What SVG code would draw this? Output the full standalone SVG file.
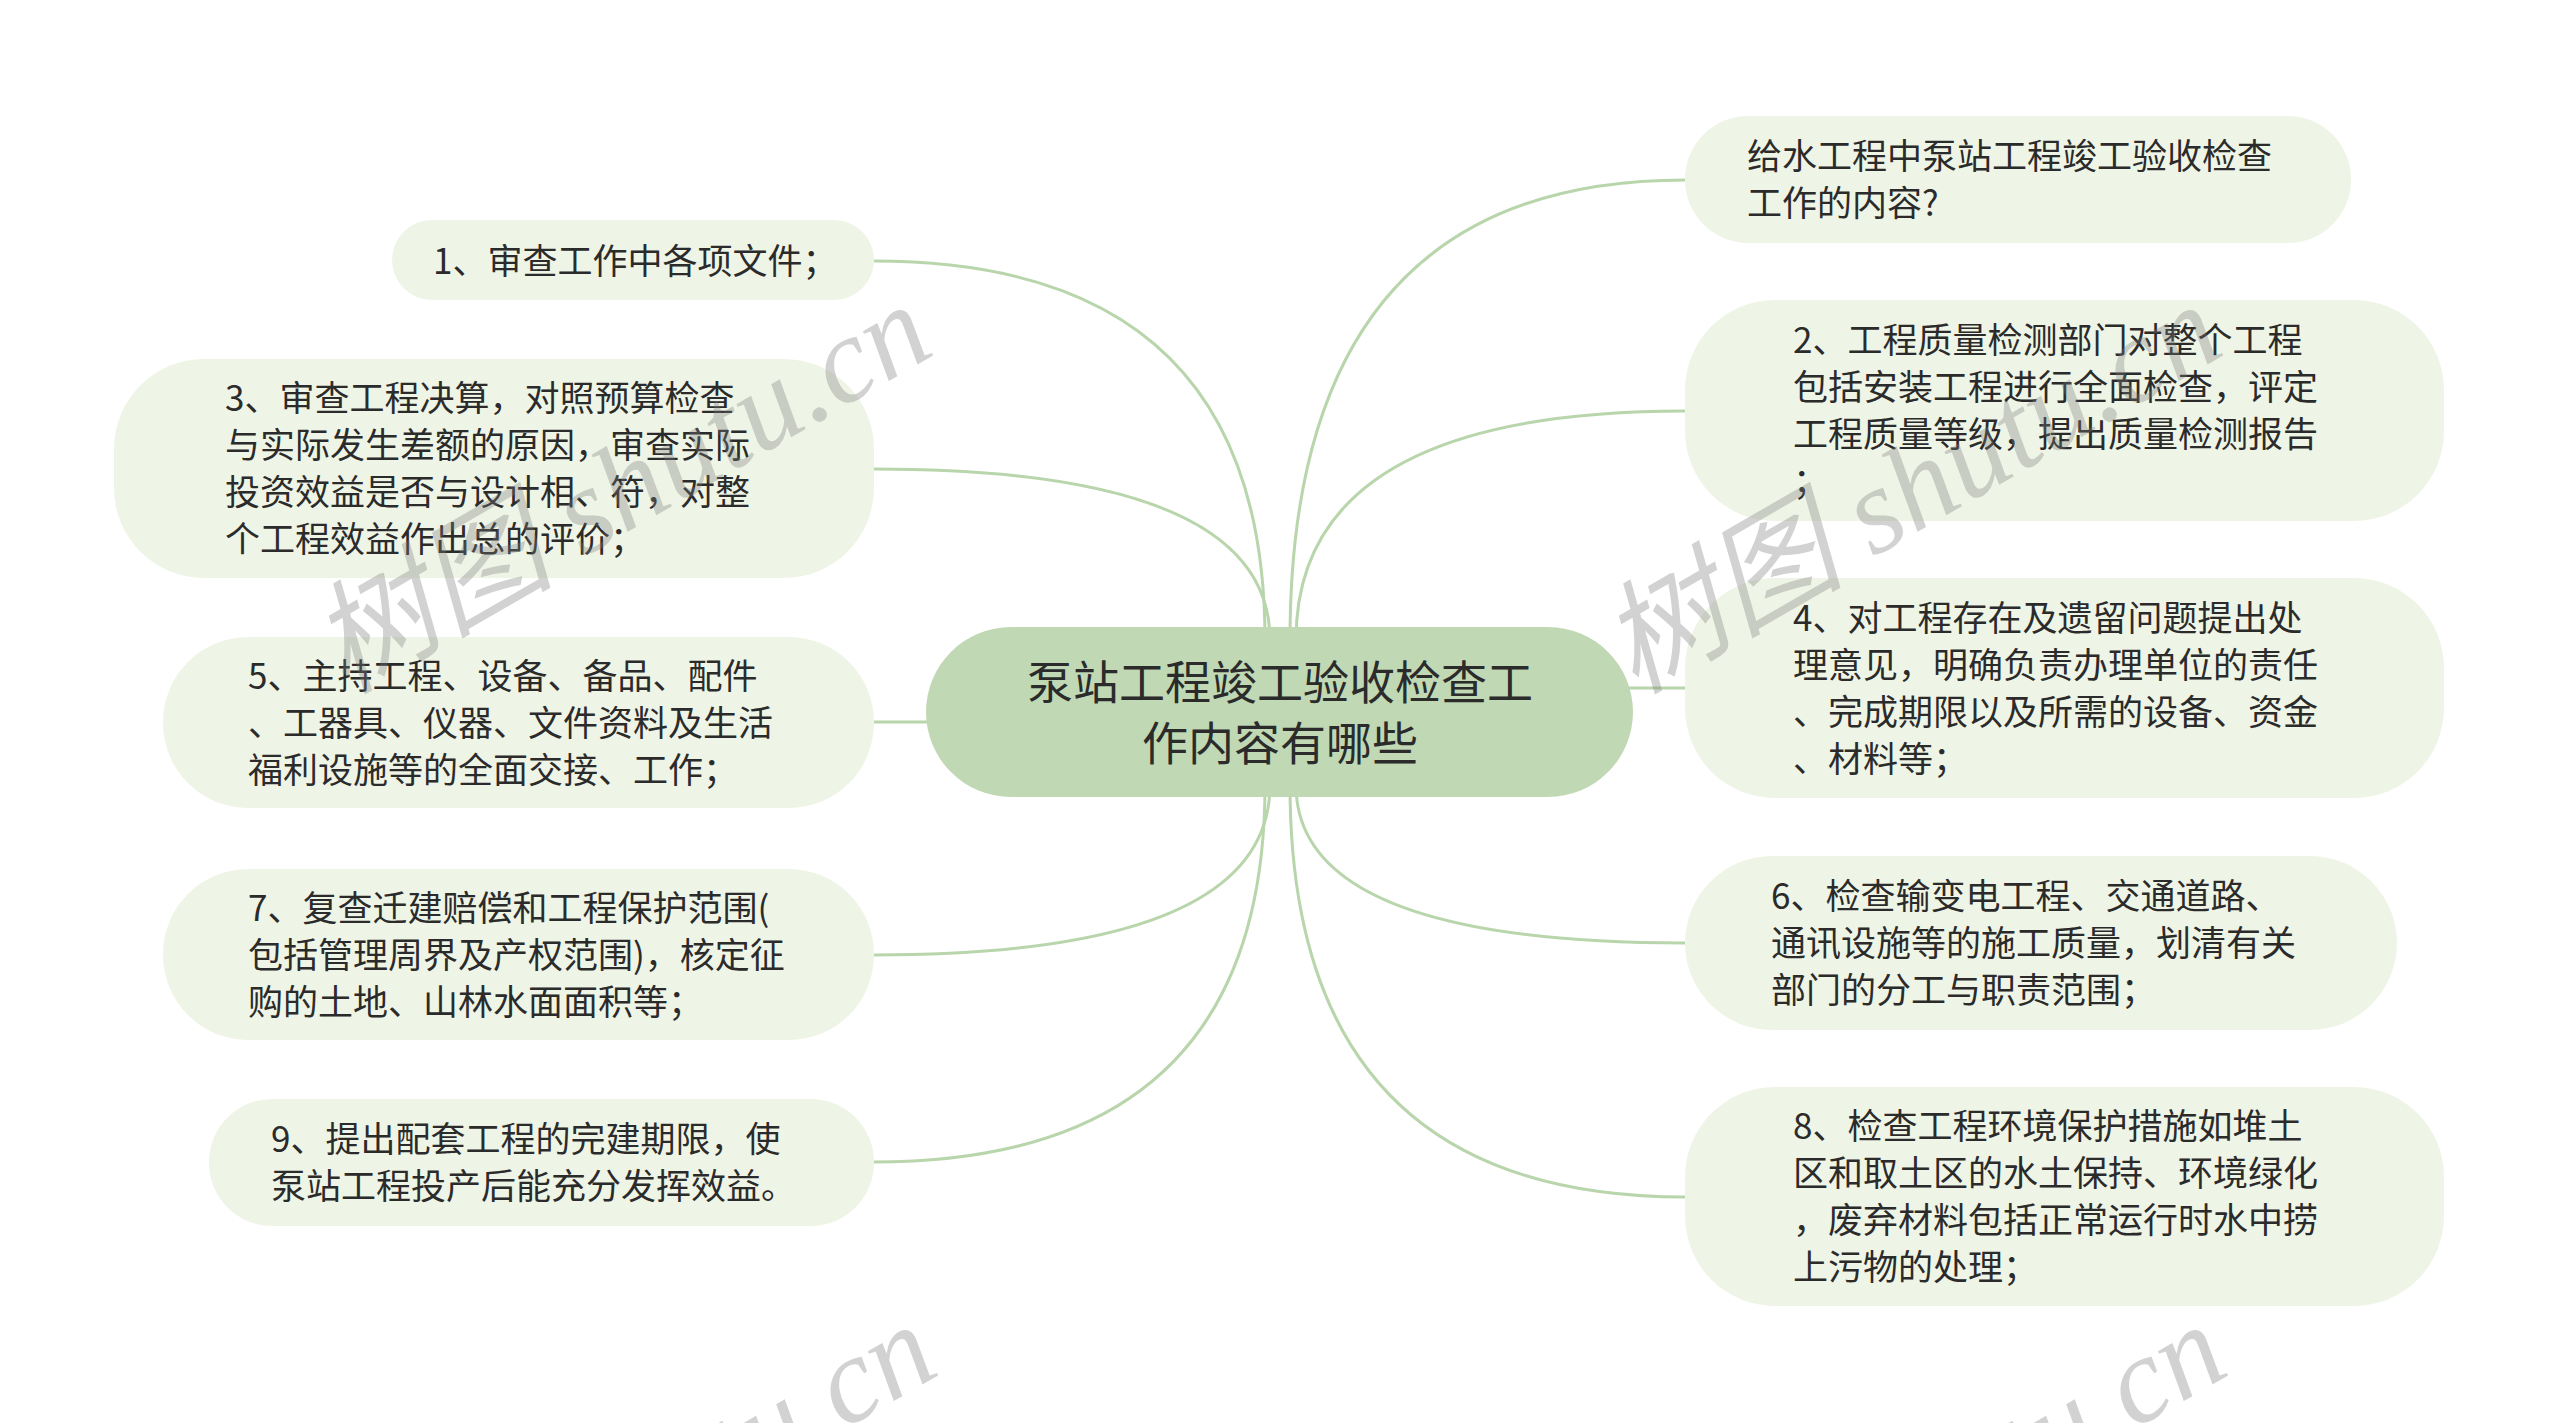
<svg xmlns="http://www.w3.org/2000/svg" width="2560" height="1423" viewBox="0 0 2560 1423">
<style>
.bg{fill:#ffffff}
.node{fill:#eff5e6}
.root{fill:#c0d9b4}
.t{font-family:"Noto Sans CJK SC","Noto Sans",sans-serif;font-size:35px;fill:#2b2b2b}
.rt{font-family:"Noto Sans CJK SC","Noto Sans",sans-serif;font-size:46px;fill:#2b2b2b;text-anchor:middle}
.c{fill:none;stroke:#b9d5ac;stroke-width:3}
.wm{font-family:"Liberation Serif","Noto Sans CJK SC",serif;font-style:italic;font-size:122px;fill:#7a7a7a;opacity:0.33}
</style>
<rect class="bg" x="0" y="0" width="2560" height="1423"/>
<g id="connectors">
<path class="c" d="M874 261 Q1265 261 1265 640"/>
<path class="c" d="M874 469 Q1270 469 1270 640"/>
<path class="c" d="M874 722 L940 722"/>
<path class="c" d="M874 955 Q1270 955 1270 785"/>
<path class="c" d="M874 1162 Q1265 1162 1265 785"/>
<path class="c" d="M1685 180 Q1290 180 1290 640"/>
<path class="c" d="M1685 411 Q1296 411 1296 640"/>
<path class="c" d="M1685 688 L1620 688"/>
<path class="c" d="M1685 943 Q1296 943 1296 785"/>
<path class="c" d="M1685 1197 Q1290 1197 1290 785"/>
</g>
<g id="root">
<rect class="root" x="926" y="627" width="707" height="170" rx="85" ry="85"/>
<text class="rt" x="1280" y="699">泵站工程竣工验收检查工</text>
<text class="rt" x="1280" y="760">作内容有哪些</text>
</g>
<g id="n1">
<rect class="node" x="392" y="220" width="482" height="80" rx="40" ry="40"/>
<text class="t" x="433" y="274">1、审查工作中各项文件；</text>
</g>
<g id="n3">
<rect class="node" x="114" y="359" width="760" height="219" rx="90" ry="90"/>
<text class="t" x="225" y="411">3、审查工程决算，对照预算检查</text>
<text class="t" x="225" y="458">与实际发生差额的原因，审查实际</text>
<text class="t" x="225" y="505">投资效益是否与设计相、符，对整</text>
<text class="t" x="225" y="552">个工程效益作出总的评价；</text>
</g>
<g id="n5">
<rect class="node" x="163" y="637" width="711" height="171" rx="85" ry="85"/>
<text class="t" x="248" y="689">5、主持工程、设备、备品、配件</text>
<text class="t" x="248" y="736">、工器具、仪器、文件资料及生活</text>
<text class="t" x="248" y="783">福利设施等的全面交接、工作；</text>
</g>
<g id="n7">
<rect class="node" x="163" y="869" width="711" height="171" rx="85" ry="85"/>
<text class="t" x="248" y="921">7、复查迁建赔偿和工程保护范围(</text>
<text class="t" x="248" y="968">包括管理周界及产权范围)，核定征</text>
<text class="t" x="248" y="1015">购的土地、山林水面面积等；</text>
</g>
<g id="n9">
<rect class="node" x="209" y="1099" width="665" height="127" rx="63" ry="63"/>
<text class="t" x="271" y="1152">9、提出配套工程的完建期限，使</text>
<text class="t" x="271" y="1199">泵站工程投产后能充分发挥效益。</text>
</g>
<g id="r0">
<rect class="node" x="1685" y="116" width="666" height="127" rx="63" ry="63"/>
<text class="t" x="1747" y="169">给水工程中泵站工程竣工验收检查</text>
<text class="t" x="1747" y="216">工作的内容?</text>
</g>
<g id="r2">
<rect class="node" x="1685" y="300" width="759" height="221" rx="90" ry="90"/>
<text class="t" x="1793" y="353">2、工程质量检测部门对整个工程</text>
<text class="t" x="1793" y="400">包括安装工程进行全面检查，评定</text>
<text class="t" x="1793" y="447">工程质量等级，提出质量检测报告</text>
<text class="t" x="1793" y="494">；</text>
</g>
<g id="r4">
<rect class="node" x="1685" y="578" width="759" height="220" rx="90" ry="90"/>
<text class="t" x="1793" y="631">4、对工程存在及遗留问题提出处</text>
<text class="t" x="1793" y="678">理意见，明确负责办理单位的责任</text>
<text class="t" x="1793" y="725">、完成期限以及所需的设备、资金</text>
<text class="t" x="1793" y="772">、材料等；</text>
</g>
<g id="r6">
<rect class="node" x="1685" y="856" width="712" height="174" rx="87" ry="87"/>
<text class="t" x="1771" y="909">6、检查输变电工程、交通道路、</text>
<text class="t" x="1771" y="956">通讯设施等的施工质量，划清有关</text>
<text class="t" x="1771" y="1003">部门的分工与职责范围；</text>
</g>
<g id="r8">
<rect class="node" x="1685" y="1087" width="759" height="219" rx="90" ry="90"/>
<text class="t" x="1793" y="1139">8、检查工程环境保护措施如堆土</text>
<text class="t" x="1793" y="1186">区和取土区的水土保持、环境绿化</text>
<text class="t" x="1793" y="1233">，废弃材料包括正常运行时水中捞</text>
<text class="t" x="1793" y="1280">上污物的处理；</text>
</g>
<g id="watermark">
<text class="wm" transform="translate(345 695) rotate(-30)">树图 shutu.cn</text>
<text class="wm" transform="translate(1635 695) rotate(-30)">树图 shutu.cn</text>
<text class="wm" transform="translate(350 1715) rotate(-30)">树图 shutu.cn</text>
<text class="wm" transform="translate(1640 1715) rotate(-30)">树图 shutu.cn</text>
</g>
</svg>
